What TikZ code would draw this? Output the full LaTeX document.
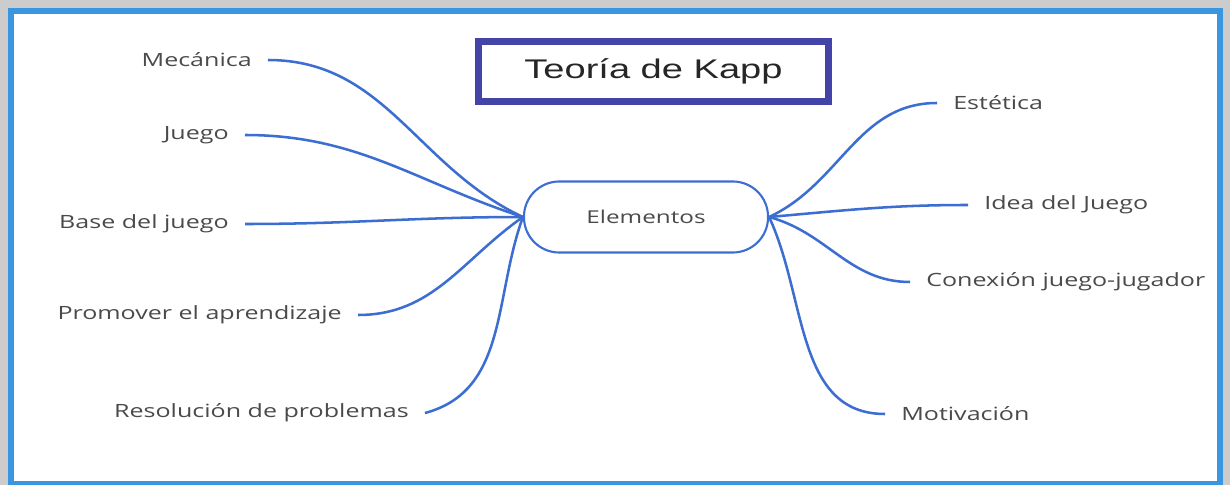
\documentclass[tikz,border=0pt]{standalone}
\usepackage{fontspec}
\setmainfont[FakeStretch=1.37]{Open Sans}
\newfontfamily\titulofont[FakeStretch=1.41]{Liberation Sans}
\usetikzlibrary{positioning}
\definecolor{marcoazul}{HTML}{3A96E1}
\definecolor{tituloazul}{HTML}{4444A8}
\definecolor{ramaazul}{HTML}{3C6ED2}
\definecolor{textogris}{HTML}{4A4A4A}

\begin{document}
\begin{tikzpicture}[x=0.025cm, y=-0.025cm,
    rama/.style={draw=ramaazul, line width=1.8pt},
    hoja/.style={shape=rectangle, text=textogris, font=\fontsize{13}{15}\selectfont, inner xsep=0.4cm, inner ysep=0pt}]
    \useasboundingbox (0,0) rectangle (1230,485);
    % marco
    \fill[gray!40] (0,0) rectangle (1230,485);
    \draw[marcoazul, fill=white, line width=0.15cm] (11,11) rectangle (1219.5,484);
    % titulo y centro
    \node[shape=rectangle, draw=tituloazul, line width=0.17cm, minimum width=8.75cm, minimum height=1.5cm, text=black!85, font=\titulofont\fontsize{19.2}{22}\selectfont] (titulo) at (653.5,71.5) {Teoría de Kapp};
    \node[shape=rectangle, draw=ramaazul, line width=1.5pt, rounded corners=0.88cm, minimum width=6.1cm, minimum height=1.775cm, text=textogris, font=\fontsize{12.6}{14}\selectfont] (elem) at (646,217) {Elementos};
    % izquierda
    \node[hoja, anchor=east] (meca) at (268,60) {Mecánica};
    \node[hoja, anchor=east] (juego) at (245,135) {Juego};
    \node[hoja, anchor=east] (base) at (245,224) {Base del juego};
    \node[hoja, anchor=east] (promo) at (358,315) {Promover el aprendizaje};
    \node[hoja, anchor=east] (resol) at (425,413) {Resolución de problemas};
    % derecha
    \node[hoja, anchor=west] (este) at (937,103) {Estética};
    \node[hoja, anchor=west] (idea) at (968,205) {Idea del Juego};
    \node[hoja, anchor=west] (conex) at (910,282) {Conexión juego-jugador};
    \node[hoja, anchor=west] (motiv) at (885,414) {Motivación};
    \draw[rama] (meca.east) to[out=0, in=155] (elem.west);
    \draw[rama] (juego.east) to[out=0, in=162] (elem.west);
    \draw[rama] (base.east) to[out=0, in=180] (elem.west);
    \draw[rama] (promo.east) to[out=0, in=215] (elem.west);
    \draw[rama] (resol.east) to[out=15, in=250] (elem.west);
    \draw[rama] (este.west) to[out=180, in=25] (elem.east);
    \draw[rama] (idea.west) to[out=180, in=5] (elem.east);
    \draw[rama] (conex.west) to[out=180, in=-15] (elem.east);
    \draw[rama] (motiv.west) to[out=180, in=-65] (elem.east);
\end{tikzpicture}
\end{document}
